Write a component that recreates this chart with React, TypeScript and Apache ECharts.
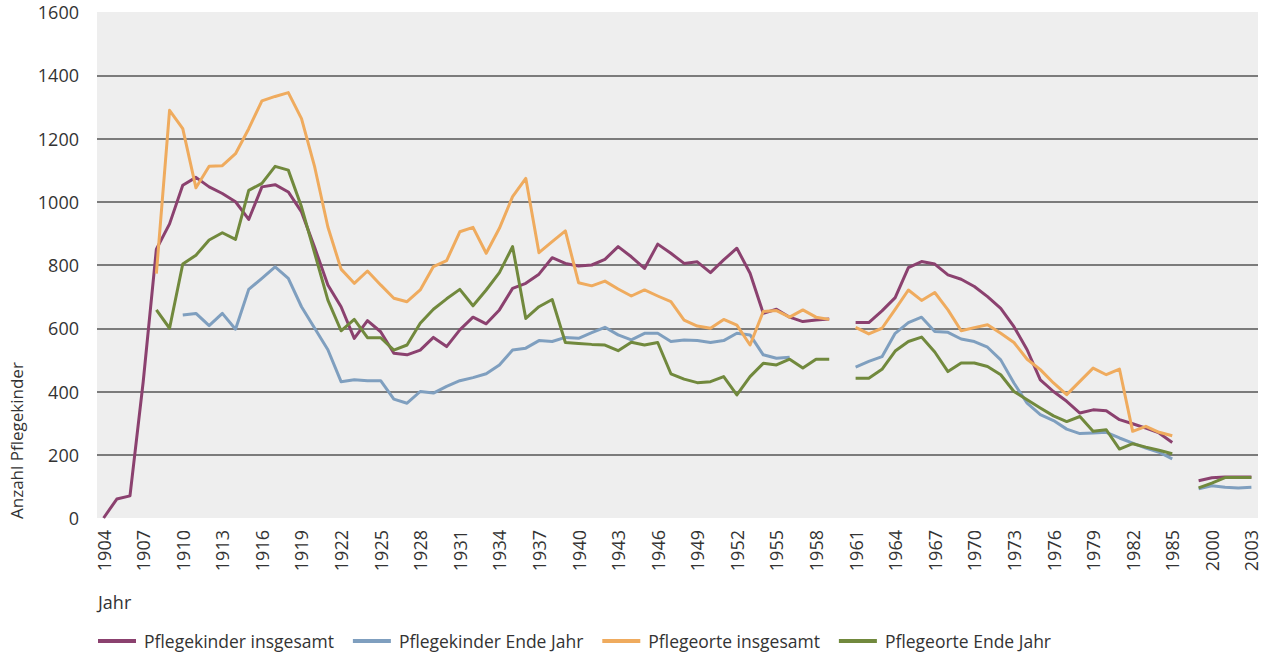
import React, { useEffect, useRef } from "react";
import * as echarts from "echarts";

const years = [
  "1904","1905","1906","1907","1908","1909","1910","1911","1912","1913",
  "1914","1915","1916","1917","1918","1919","1920","1921","1922","1923",
  "1924","1925","1926","1927","1928","1929","1930","1931","1932","1933",
  "1934","1935","1936","1937","1938","1939","1940","1941","1942","1943",
  "1944","1945","1946","1947","1948","1949","1950","1951","1952","1953",
  "1954","1955","1956","1957","1958","1959","1960","1961","1962","1963",
  "1964","1965","1966","1967","1968","1969","1970","1971","1972","1973",
  "1974","1975","1976","1977","1978","1979","1980","1981","1982","1983",
  "1984","1985"," ","1999","2000","2001","2002","2003",
];

const pflegekinderInsgesamt = [
  0, 60, 70, 430, 850, 930, 1052, 1077, 1047, 1026,
  1000, 944, 1047, 1054, 1031, 968, 855, 737, 668, 568,
  624, 589, 521, 516, 531, 571, 542, 595, 635, 614,
  658, 726, 742, 771, 823, 805, 797, 800, 818, 858,
  826, 789, 866, 837, 805, 810, 776, 816, 853, 774,
  647, 660, 635, 621, 626, 629, null, 618, 618, 655,
  697, 792, 811, 803, 769, 755, 732, 700, 663, 605,
  532, 437, 400, 369, 332, 342, 339, 311, 298, 284,
  269, 239, null, 118, 127, 130, 130, 130,
];

const pflegekinderEndeJahr = [
  null, null, null, null, null, null, 642, 647, 608, 647,
  597, 723, 758, 794, 758, 668, 600, 532, 431, 437,
  434, 434, 376, 363, 400, 395, 416, 434, 444, 456,
  484, 531, 537, 561, 558, 571, 568, 586, 603, 579,
  563, 584, 584, 558, 563, 561, 555, 561, 584, 579,
  516, 505, 508, null, null, null, null, 477, 495, 510,
  584, 618, 635, 590, 587, 566, 558, 540, 500, 427,
  363, 327, 308, 281, 267, 269, 271, 253, 237, 221,
  208, 187, null, 92, 102, 97, 95, 97,
];

const pflegeorteInsgesamt = [
  null, null, null, null, 773, 1289, 1231, 1044, 1112, 1114,
  1152, 1231, 1319, 1333, 1345, 1263, 1110, 920, 787, 742,
  781, 737, 695, 684, 721, 795, 814, 905, 919, 837,
  916, 1016, 1074, 839, 874, 908, 744, 734, 749, 724,
  702, 721, 702, 684, 626, 607, 600, 628, 610, 547,
  653, 656, 635, 658, 635, 628, null, 603, 582, 600,
  660, 721, 688, 713, 658, 592, 602, 611, 584, 555,
  502, 469, 427, 390, 432, 474, 453, 471, 274, 290,
  271, 260, null, null, null, null, null, null,
];

const pflegeorteEndeJahr = [
  null, null, null, null, 658, 600, 803, 831, 879, 902,
  881, 1036, 1058, 1112, 1100, 984, 837, 689, 592, 628,
  570, 570, 531, 547, 616, 660, 693, 723, 671, 721,
  776, 858, 631, 668, 691, 555, 552, 549, 547, 529,
  556, 547, 555, 456, 439, 428, 431, 447, 389, 447,
  489, 484, 502, 474, 502, 502, null, 442, 442, 470,
  528, 558, 572, 525, 463, 490, 490, 479, 453, 400,
  374, 348, 323, 305, 321, 274, 279, 218, 235, 224,
  214, 203, null, 95, 110, 128, 128, 128,
];

const seriesNames = [
  "Pflegekinder insgesamt",
  "Pflegekinder Ende Jahr",
  "Pflegeorte insgesamt",
  "Pflegeorte Ende Jahr",
];
const seriesColors = ["#8b416f", "#7f9fbf", "#efab5e", "#71893d"];
const seriesData = [
  pflegekinderInsgesamt,
  pflegekinderEndeJahr,
  pflegeorteInsgesamt,
  pflegeorteEndeJahr,
];

const FONT = "'Open Sans', 'Noto Sans', sans-serif";

export default function App() {
  const ref = useRef<HTMLDivElement>(null);

  useEffect(() => {
    if (!ref.current) return;
    const chart = echarts.init(ref.current, undefined, { renderer: "svg" });
    const gridColors = [
      "rgba(0,0,0,0)", "#555", "#555", "#555", "#555", "#555", "#555", "#555", "rgba(0,0,0,0)",
    ];
    chart.setOption({
      animation: false,
      backgroundColor: "#ffffff",
      textStyle: { fontFamily: FONT },
      grid: {
        left: 97,
        right: 14,
        top: 12,
        bottom: 138,
        show: true,
        backgroundColor: "#eeeeee",
        borderWidth: 0,
      },
      legend: {
        left: 98,
        top: 632,
        padding: 0,
        itemWidth: 38,
        itemHeight: 4,
        itemGap: 19,
        icon: "rect",
        textStyle: { fontSize: 17.5, color: "#333", fontFamily: FONT, padding: [0, 0, 0, 3] },
        data: seriesNames,
      },
      xAxis: {
        type: "category",
        data: years,
        boundaryGap: true,
        axisLine: { show: false },
        axisTick: { show: false },
        splitLine: { show: false },
        axisLabel: {
          interval: 2,
          rotate: 90,
          margin: 12,
          fontSize: 18,
          color: "#333",
          fontFamily: FONT,
        },
      },
      yAxis: {
        type: "value",
        min: 0,
        max: 1600,
        interval: 200,
        axisLine: { show: false },
        axisTick: { show: false },
        axisLabel: {
          margin: 18,
          fontSize: 18,
          color: "#333",
          fontFamily: FONT,
          formatter: (v: number) => String(v),
        },
        splitLine: { show: true, lineStyle: { color: gridColors, width: 1.5 } },
      },
      graphic: [
        {
          type: "text",
          left: 98,
          top: 593,
          style: { text: "Jahr", font: `18px ${FONT}`, fill: "#333" },
        },
        {
          type: "text",
          x: 16,
          y: 519,
          rotation: Math.PI / 2,
          style: {
            text: "Anzahl Pflegekinder",
            font: `17px ${FONT}`,
            fill: "#333",
            textAlign: "left",
            textVerticalAlign: "middle",
          },
        },
      ],
      series: seriesNames.map((name, i) => ({
        name,
        type: "line",
        data: seriesData[i],
        symbol: "none",
        connectNulls: false,
        color: seriesColors[i],
        lineStyle: { width: 3, color: seriesColors[i], join: "round" },
      })),
    });
    return () => chart.dispose();
  }, []);

  return (
    <div
      ref={ref}
      style={{ position: "fixed", left: 0, top: 0, width: 1272, height: 656 }}
    />
  );
}
